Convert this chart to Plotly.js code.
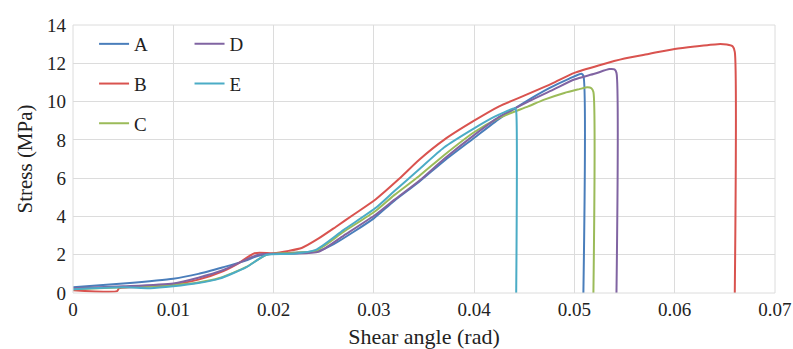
<!DOCTYPE html>
<html>
<head>
<meta charset="utf-8">
<script src="https://cdn.plot.ly/plotly-3.0.1.min.js"></script>
<style>html,body{margin:0;padding:0;background:#fff;}#chart{width:793px;height:349px;}</style>
</head>
<body>
<div id="chart"></div>
<script>
// Tick values / labels
const xTicks = [0, 0.01, 0.02, 0.03, 0.04, 0.05, 0.06, 0.07];
const xTickLabels = ['0', '0.01', '0.02', '0.03', '0.04', '0.05', '0.06', '0.07'];
const yTicks = [0, 2, 4, 6, 8, 10, 12, 14];

// Series A (blue)
const xA = [0, 0.005, 0.01, 0.0125, 0.015, 0.017, 0.0185, 0.02, 0.022, 0.0245, 0.026, 0.028, 0.03, 0.032, 0.0345, 0.037, 0.04, 0.0425, 0.045, 0.0475, 0.0495, 0.0507, 0.0509, 0.0509];
const yA = [0.3, 0.5, 0.75, 1.0, 1.35, 1.65, 1.95, 2.05, 2.1, 2.2, 2.55, 3.2, 3.9, 4.8, 5.8, 6.9, 8.1, 9.1, 9.95, 10.7, 11.2, 11.45, 11.35, 0];
// Series B (red)
const xB = [0, 0.0044, 0.0046, 0.008, 0.01, 0.0125, 0.015, 0.0165, 0.0181, 0.02, 0.0215, 0.0228, 0.0245, 0.0262, 0.028, 0.0302, 0.0325, 0.0345, 0.037, 0.04, 0.0425, 0.0454, 0.0478, 0.05, 0.0525, 0.055, 0.0575, 0.06, 0.062, 0.0643, 0.0652, 0.0658, 0.066, 0.066];
const yB = [0.15, 0.1, 0.25, 0.35, 0.45, 0.7, 1.15, 1.55, 2.08, 2.08, 2.2, 2.35, 2.85, 3.45, 4.1, 4.9, 5.95, 6.95, 8.0, 9.0, 9.75, 10.4, 10.95, 11.5, 11.9, 12.25, 12.5, 12.75, 12.88, 13.0, 12.98, 12.88, 12.6, 0];
// Series C (green)
const xC = [0, 0.005, 0.01, 0.0125, 0.0146, 0.0173, 0.0193, 0.022, 0.0242, 0.027, 0.0302, 0.032, 0.0345, 0.037, 0.04, 0.0425, 0.0454, 0.047, 0.049, 0.0505, 0.0513, 0.0517, 0.0519, 0.0519];
const yC = [0.2, 0.3, 0.42, 0.55, 0.78, 1.36, 2.0, 2.1, 2.2, 3.2, 4.3, 5.1, 6.1, 7.2, 8.4, 9.15, 9.75, 10.1, 10.45, 10.65, 10.75, 10.7, 10.5, 0];
// Series D (purple)
const xD = [0, 0.005, 0.01, 0.0125, 0.015, 0.0185, 0.022, 0.0245, 0.027, 0.0302, 0.032, 0.0345, 0.037, 0.04, 0.0425, 0.0454, 0.048, 0.05, 0.052, 0.0535, 0.054, 0.0542, 0.0542];
const yD = [0.25, 0.35, 0.5, 0.8, 1.2, 2.0, 2.05, 2.15, 3.0, 4.1, 4.85, 5.85, 7.0, 8.25, 9.2, 10.0, 10.65, 11.15, 11.45, 11.7, 11.68, 11.5, 0];
// Series E (cyan)
const xE = [0, 0.005, 0.0077, 0.01, 0.0125, 0.0146, 0.0173, 0.0193, 0.022, 0.0242, 0.027, 0.0302, 0.032, 0.0345, 0.037, 0.04, 0.042, 0.0441, 0.0442, 0.0442];
const yE = [0.2, 0.3, 0.25, 0.35, 0.52, 0.75, 1.35, 2.0, 2.05, 2.25, 3.3, 4.45, 5.3, 6.45, 7.6, 8.6, 9.2, 9.65, 9.5, 0];

const names = ['A', 'B', 'C', 'D', 'E'];
const colors = ['#4a7ebb', '#d9534f', '#9bbb59', '#8064a2', '#4bacc6'];
const xs = [xA, xB, xC, xD, xE];
const ys = [yA, yB, yC, yD, yE];
const legendOf = ['legend', 'legend', 'legend', 'legend2', 'legend2'];

const FONT = 'Liberation Serif, DejaVu Serif, serif';

const traces = names.map((n, i) => ({
  x: xs[i], y: ys[i], name: n, type: 'scatter', mode: 'lines',
  line: {color: colors[i], width: 2, shape: 'spline', smoothing: 0.6},
  legend: legendOf[i], legendgroup: n
}));

const legendCommon = {
  y: 1, yanchor: 'top', bgcolor: 'rgba(0,0,0,0)',
  font: {family: FONT, size: 19, color: '#222'},
  tracegroupgap: 12, itemwidth: 30
};

const layout = {
  width: 793, height: 349,
  margin: {l: 73, r: 18, t: 25, b: 56},
  paper_bgcolor: '#fff', plot_bgcolor: '#fff',
  font: {family: FONT, size: 19, color: '#222'},
  showlegend: true,
  legend: Object.assign({x: 0.03, xanchor: 'left'}, legendCommon),
  legend2: Object.assign({x: 0.166, xanchor: 'left'}, legendCommon),
  xaxis: {
    range: [0, 0.07001],
    tickmode: 'array', tickvals: xTicks, ticktext: xTickLabels,
    ticklabeloverflow: 'allow',
    showgrid: true, gridcolor: '#dcdcdc', gridwidth: 1,
    zeroline: false, showline: false, ticks: '',
    ticklabelstandoff: 3,
    tickfont: {family: FONT, size: 19, color: '#222'},
    title: {text: 'Shear angle (rad)', font: {family: FONT, size: 22, color: '#222'}, standoff: 10}
  },
  yaxis: {
    range: [0, 14.0005],
    tickmode: 'array', tickvals: yTicks,
    ticklabeloverflow: 'allow',
    showgrid: true, gridcolor: '#dcdcdc', gridwidth: 1,
    zeroline: false, showline: false, ticks: '',
    ticklabelstandoff: 6,
    tickfont: {family: FONT, size: 19, color: '#222'},
    title: {text: 'Stress (MPa)', font: {family: FONT, size: 21, color: '#222'}, standoff: 8}
  },
  shapes: [
    {type: 'line', xref: 'paper', yref: 'paper', x0: 1, x1: 1, y0: 0, y1: 1, line: {color: '#dcdcdc', width: 1}},
    {type: 'line', xref: 'paper', yref: 'paper', x0: 0, x1: 1, y0: 1, y1: 1, line: {color: '#dcdcdc', width: 1}},
    {type: 'line', xref: 'paper', yref: 'paper', x0: 0, x1: 0, y0: 0, y1: 1, line: {color: '#dcdcdc', width: 1}},
    {type: 'line', xref: 'paper', yref: 'paper', x0: 0, x1: 1, y0: 0, y1: 0, line: {color: '#dcdcdc', width: 1}}
  ]
};

Plotly.newPlot('chart', traces, layout, {displayModeBar: false, staticPlot: true});
</script>
</body>
</html>
